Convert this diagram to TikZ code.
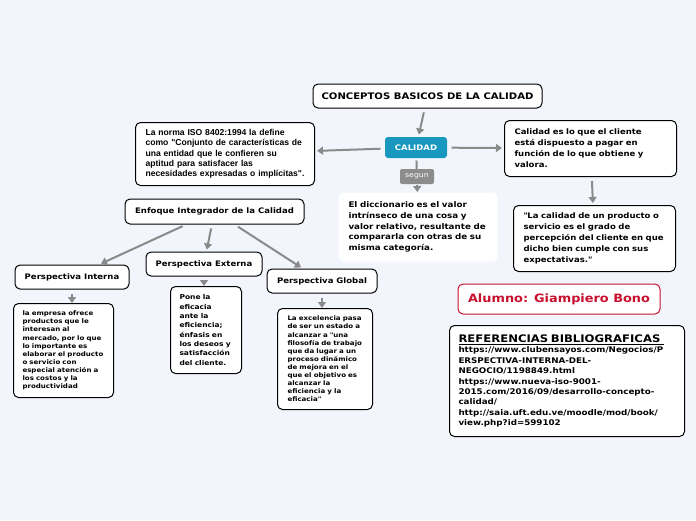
\documentclass[tikz,border=0pt]{standalone}
\usepackage{fontspec}
\setmainfont{DejaVu Sans}[FakeStretch=1.12]
\newfontfamily\arialfont{Liberation Sans}
\usetikzlibrary{arrows.meta}
\definecolor{bgcol}{RGB}{243,245,253}
\definecolor{linkgray}{RGB}{138,138,138}
\definecolor{tealcol}{RGB}{24,152,190}
\definecolor{segungray}{RGB}{140,140,140}
\definecolor{redcol}{RGB}{200,16,46}
\tikzset{basic box/.style={draw=black,
                           line width=1pt,
                           rounded corners=5pt,
                           fill=white,
                           font=\bfseries}}
\tikzset{label box/.style={basic box,inner sep=2pt}}
\tikzset{text box/.style={basic box,align=left,anchor=north west,inner ysep=3pt}}
\tikzset{link/.style={draw=linkgray,
                      line width=2pt,
                      -{Triangle[width=8pt,length=6pt]},
                      shorten <=4pt,
                      shorten >=2pt}}
\newcommand{\fbig}{\fontsize{9}{10}\selectfont}
\newcommand{\fmid}{\fontsize{7.6}{11}\selectfont}
\newcommand{\fsmall}{\fontsize{6.3}{8.1}\selectfont}
\newcommand{\fref}{\fontsize{7.8}{10.4}\selectfont}
\newcommand{\qt}{\textquotedbl}

\begin{document}
\begin{tikzpicture}
      [
      x=1pt,y=-1pt,
      ]

      \useasboundingbox [fill=bgcol] (0,0) rectangle (696,520);

      % centre
      \node [label box,minimum width=229,minimum height=24,font=\fbig\bfseries] (title) at (427.5,96) {CONCEPTOS BASICOS DE LA CALIDAD};
      \node [label box,draw=none,fill=tealcol,text=white,rounded corners=3pt,minimum width=62,minimum height=21,font=\fontsize{7.6}{8}\selectfont\bfseries] (calidad) at (416,147.5) {CALIDAD};
      \node [fill=segungray,text=white,rounded corners=2pt,minimum width=34,minimum height=15,inner sep=1pt,font=\fontsize{7}{8}\selectfont] (segun) at (417,176.5) {segun};

      % definitions
      \node [text box,text width=159,inner xsep=10,minimum height=63,font=\arialfont\fontsize{8.6}{10.3}\selectfont\bfseries] (iso) at (135,122)
      {La norma ISO 8402:1994 la define\\
      como \qt Conjunto de características de\\
      una entidad que le confieren su\\
      aptitud para satisfacer las\\
      necesidades expresadas o implícitas\qt.};

      \node [text box,text width=152,inner xsep=10,minimum height=56,font=\fmid\bfseries] (cliente) at (504,120)
      {Calidad es lo que el cliente\\
      está dispuesto a pagar en\\
      función de lo que obtiene y\\
      valora.};

      \node [text box,text width=142,inner xsep=10,minimum height=66,font=\fmid\bfseries] (percepcion) at (513,205)
      {\qt La calidad de un producto o\\
      servicio es el grado de\\
      percepción del cliente en que\\
      dicho bien cumple con sus\\
      expectativas.\qt};

      \node [text box,draw=none,text width=139,inner xsep=10,minimum height=69,font=\fontsize{7.8}{10.8}\selectfont\bfseries] (diccionario) at (338,192)
      {El diccionario es el valor\\
      intrínseco de una cosa y\\
      valor relativo, resultante de\\
      compararla con otras de su\\
      misma categoría.};

      % perspectives
      \node [label box,minimum width=179,minimum height=25,font=\fmid\bfseries] (enfoque) at (214.5,211.5) {Enfoque Integrador de la Calidad};
      \node [label box,minimum width=114,minimum height=24,font=\fmid\bfseries] (interna) at (72,277) {Perspectiva Interna};
      \node [label box,minimum width=116,minimum height=24,font=\fmid\bfseries] (externa) at (204,264) {Perspectiva Externa};
      \node [label box,minimum width=110,minimum height=24,font=\fmid\bfseries] (global) at (322,281) {Perspectiva Global};

      \node [text box,text width=82,inner xsep=9,minimum height=94,font=\fsmall\bfseries] (interna text) at (13,303)
      {la empresa ofrece\\
      productos que le\\
      interesan al\\
      mercado, por lo que\\
      lo importante es\\
      elaborar el producto\\
      o servicio con\\
      especial atención a\\
      los costos y la\\
      productividad};

      \node [text box,text width=53,inner xsep=9,minimum height=87,font=\fontsize{6.7}{9.3}\selectfont\bfseries] (externa text) at (170,286)
      {Pone la\\
      eficacia\\
      ante la\\
      eficiencia;\\
      énfasis en\\
      los deseos y\\
      satisfacción\\
      del cliente.};

      \node [text box,text width=75,inner xsep=10,minimum height=101,font=\fsmall\bfseries] (global text) at (277,308)
      {La excelencia pasa\\
      de ser un estado a\\
      alcanzar a \qt una\\
      filosofía de trabajo\\
      que da lugar a un\\
      proceso dinámico\\
      de mejora en el\\
      que el objetivo es\\
      alcanzar la\\
      eficiencia y la\\
      eficacia\qt};

      % author and references
      \node [label box,draw=redcol,text=redcol,minimum width=202,minimum height=30,font=\fontsize{11.5}{12}\selectfont\bfseries] (alumno) at (559,299) {Alumno: Giampiero Bono};

      \node [text box,text width=217,inner xsep=9,minimum height=111,font=\fref\bfseries] (referencias) at (449,325)
      {{\fontsize{10.4}{11.5}\selectfont\underline{REFERENCIAS BIBLIOGRAFICAS\hspace{4pt}}}\\
      https://www.clubensayos.com/Negocios/P\\
      ERSPECTIVA-INTERNA-DEL-\\
      NEGOCIO/1198849.html\\
      https://www.nueva-iso-9001-\\
      2015.com/2016/09/desarrollo-concepto-\\
      calidad/\\
      http://saia.uft.edu.ve/moodle/mod/book/\\
      view.php?id=599102};

      % edges
      \draw [link] (title) -- (calidad);
      \draw [link] (calidad) -- (iso);
      \draw [link] (calidad) -- (cliente);
      \draw [draw=linkgray,line width=2pt,shorten <=2pt] (calidad) -- (segun);
      \draw [link,shorten <=1pt,shorten >=0pt] (segun) -- (diccionario);
      \draw [link] (cliente) -- (percepcion);

      \draw [link] (enfoque) -- (interna);
      \draw [link] (enfoque) -- (externa);
      \draw [link] (enfoque) -- (global);

      \draw [link,shorten >=0pt] (interna.south) -- (interna.south |- interna text.north);
      \draw [link,shorten <=3pt,shorten >=0pt] (externa.south) -- (externa.south |- externa text.north);
      \draw [link,shorten >=0pt] (global.south) -- (global.south |- global text.north);

    \end{tikzpicture}
\end{document}
